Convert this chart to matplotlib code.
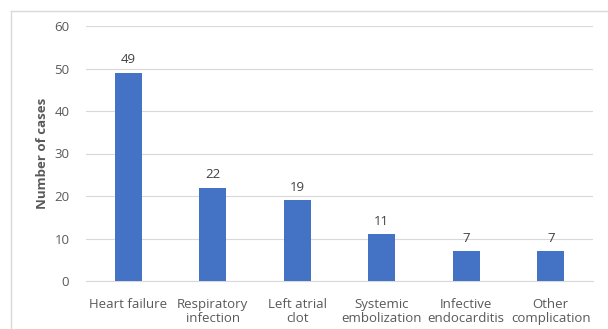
import matplotlib.pyplot as plt
from matplotlib.lines import Line2D

categories = ['Heart failure', 'Respiratory\ninfection', 'Left atrial\nclot',
              'Systemic\nembolization', 'Infective\nendocarditis', 'Other\ncomplication']
cases = [49, 22, 19, 11, 7, 7]
yticks = [0, 10, 20, 30, 40, 50, 60]

plt.rcParams['font.family'] = ['Open Sans', 'DejaVu Sans']
grey = '#595959'

fig = plt.figure(figsize=(6.08, 3.29), dpi=100)
ax = fig.add_axes([86 / 608, 1 - 281 / 329, 507 / 608, 255 / 329])

# chart border (top and left only are visible in the crop)
border = dict(transform=fig.transFigure, color='#d9d9d9', linewidth=1)
fig.lines.append(Line2D([10.5 / 608, 10.5 / 608], [0, 1 - 10.5 / 329], **border))
fig.lines.append(Line2D([10.5 / 608, 1], [1 - 10.5 / 329, 1 - 10.5 / 329], **border))

x = range(len(categories))
bars = ax.bar(x, cases, width=0.32, color='#4472c4', zorder=3)
for b, v in zip(bars, cases):
    ax.text(b.get_x() + b.get_width() / 2, v + 1.5, str(v), ha='center', va='bottom',
            fontsize=9.5, color='#404040')

ax.set_xlim(-0.5, len(categories) - 0.5)
ax.set_ylim(0, 60)
ax.set_yticks(yticks)
ax.set_xticks(list(x))
ax.set_xticklabels(categories, fontsize=9.5, color=grey, linespacing=1.15)
ax.tick_params(axis='y', labelsize=9.5, labelcolor=grey, length=0, pad=12)
ax.tick_params(axis='x', length=0, pad=12)
ax.grid(axis='y', color='#d9d9d9', linewidth=0.8, zorder=0)
for s in ['top', 'right', 'left']:
    ax.spines[s].set_visible(False)
ax.spines['bottom'].set_color('#d9d9d9')
ax.set_ylabel('Number of cases', fontsize=9.5, fontweight='bold', color=grey, labelpad=4)

plt.savefig('out.png', dpi=100)
